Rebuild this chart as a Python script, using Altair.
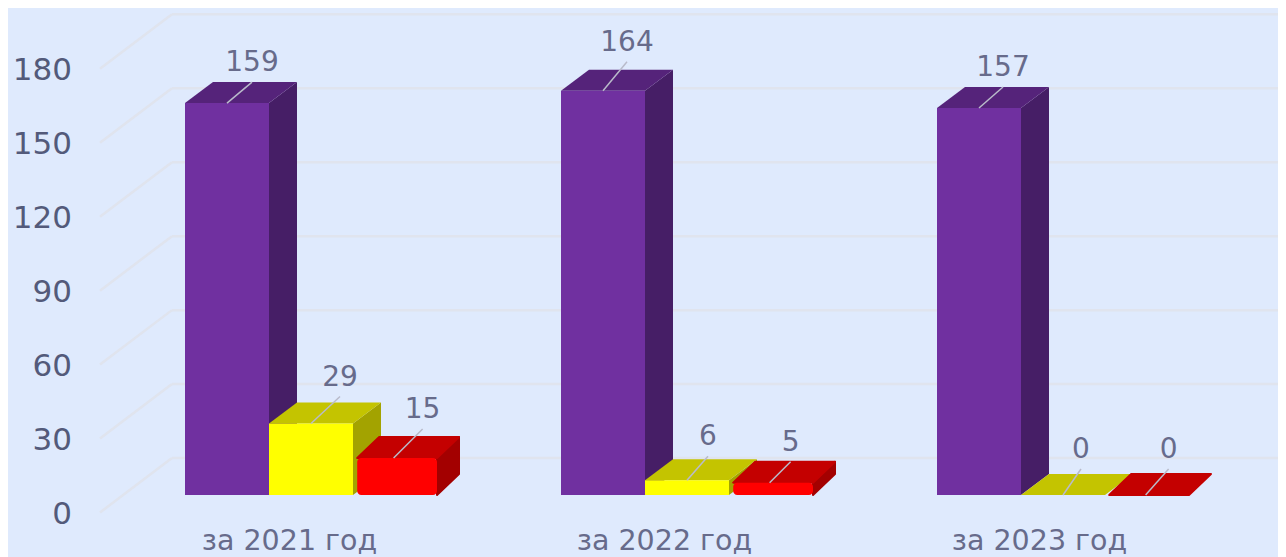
import altair as alt
import pandas as pd

categories = ["за 2021 год", "за 2022 год", "за 2023 год"]
purple_values = [159, 164, 157]
yellow_values = [29, 6, 0]
red_values = [15, 5, 0]
axis_values = [0, 30, 60, 90, 120, 150, 180]

# leader line run and rise for each value label, in pixels
purple_leader = [(25, 21), (24, 29), (24, 21)]
yellow_leader = [(29, 27), (21, 24), (18, 26)]
red_leader = [(29, 29), (21, 21), (23, 26)]

W, H = 1270, 549
PX_PER_VALUE = 2.465
BAR_PX = 84.0
GROUP_STEP = 376 / BAR_PX
CATEGORY_STEP = 375 / BAR_PX
DEPTH_V = 21 / PX_PER_VALUE
X_ORIGIN = 177.0
Y_ORIGIN = 487.0

xs = alt.Scale(domain=[-X_ORIGIN / BAR_PX, (W - X_ORIGIN) / BAR_PX], range=[0, W], nice=False, zero=False)
ys = alt.Scale(domain=[(Y_ORIGIN - H) / PX_PER_VALUE, Y_ORIGIN / PX_PER_VALUE], range=[H, 0], nice=False, zero=False)
X = alt.X("x:Q", scale=xs, axis=None)
Y = alt.Y("y:Q", scale=ys, axis=None)

WALL_FRONT_V = -7.1
WALL_BACK_V = 15.0
WALL_LEFT_U = -1.012
WALL_RIGHT_U = -0.155
TICK_LABEL_V = -8.0
wall = pd.DataFrame({"v": axis_values})
grid_color = "#e0e4ee"

diag = pd.DataFrame({
    "x": WALL_LEFT_U, "x2": WALL_RIGHT_U,
    "y": wall.v + WALL_FRONT_V, "y2": wall.v + WALL_BACK_V,
})
horiz = pd.DataFrame({
    "x": WALL_RIGHT_U, "x2": (W - X_ORIGIN) / BAR_PX,
    "y": wall.v + WALL_BACK_V, "y2": wall.v + WALL_BACK_V,
})
layers = []
for df in (diag, horiz):
    layers.append(
        alt.Chart(df).mark_rule(color=grid_color, strokeWidth=2.5).encode(x=X, x2="x2:Q", y=Y, y2="y2:Q")
    )

series = [
    dict(values=purple_values, start=0.0, width=1.0, depth=28, inset=0, front="#7030a0", top="#55237a", side="#461e66", round=False),
    dict(values=yellow_values, start=1.0, width=1.0, depth=28, inset=0, front="#ffff00", top="#c4c400", side="#a3a300", round=False),
    dict(values=red_values, start=2.05, width=0.95, depth=22, inset=3.5, front="#ff0000", top="#c40000", side="#a30000", round=True),
]


def soft(color, rounded):
    return {"stroke": color, "strokeWidth": 2, "strokeJoin": "round"} if rounded else {}


for s in series:
    rounded = s["round"]
    depth_u = s["depth"] / BAR_PX
    for g, v in enumerate(s["values"]):
        l = g * GROUP_STEP + s["start"]
        r = l + s["width"]
        if v > 0:
            side = pd.DataFrame([
                {"x": r, "y": 0, "y2": v},
                {"x": r + depth_u, "y": DEPTH_V, "y2": v + DEPTH_V},
            ])
            layers.append(
                alt.Chart(side).mark_area(orient="vertical", color=s["side"], **soft(s["side"], rounded))
                .encode(x=X, y=Y, y2="y2:Q")
            )
        top = pd.DataFrame([
            {"x": l, "x2": r, "y": v},
            {"x": l + depth_u, "x2": r + depth_u, "y": v + DEPTH_V},
        ])
        layers.append(
            alt.Chart(top).mark_area(orient="horizontal", color=s["top"], **soft(s["top"], rounded))
            .encode(x=X, x2="x2:Q", y=Y)
        )
        if v > 0:
            front = pd.DataFrame([{"x": l, "x2": r, "y": 0, "y2": v}])
            layers.append(
                alt.Chart(front).mark_rect(color=s["front"], cornerRadius=4 if rounded else 0)
                .encode(x=X, x2="x2:Q", y=Y, y2="y2:Q")
            )

# value labels and leaders
leader_rows, label_rows = [], []
for s, lead in zip(series, (purple_leader, yellow_leader, red_leader)):
    for g, (v, (run, rise)) in enumerate(zip(s["values"], lead)):
        x0 = g * GROUP_STEP + s["start"] + s["width"] / 2 - s["inset"] / BAR_PX
        x1 = x0 + run / BAR_PX
        y1 = v + rise / PX_PER_VALUE
        leader_rows.append({"x": x0, "x2": x1, "y": v, "y2": y1})
        label_rows.append({"x": x1, "y": y1 + 11 / PX_PER_VALUE, "t": str(v)})

layers.append(
    alt.Chart(pd.DataFrame(leader_rows)).mark_rule(color="#b9bbca", strokeWidth=1.5).encode(x=X, x2="x2:Q", y=Y, y2="y2:Q")
)
text_color = "#676b8b"
FONT = "DejaVu Sans"
layers.append(
    alt.Chart(pd.DataFrame(label_rows)).mark_text(
        font=FONT, fontSize=28, color=text_color, align="center", baseline="alphabetic"
    ).encode(x=X, y=Y, text="t:N")
)
tick_df = pd.DataFrame({"x": (72 - 185) / BAR_PX, "y": wall.v + TICK_LABEL_V, "t": [str(v) for v in axis_values]})
layers.append(
    alt.Chart(tick_df).mark_text(
        font=FONT, fontSize=31, color="#535a7a", align="right", baseline="middle"
    ).encode(x=X, y=Y, text="t:N")
)
cat_df = pd.DataFrame({
    "x": [g * CATEGORY_STEP + 104.5 / BAR_PX for g in range(3)],
    "y": -55 / PX_PER_VALUE,
    "t": categories,
})
layers.append(
    alt.Chart(cat_df).mark_text(
        font=FONT, fontSize=28.5, color=text_color, align="center", baseline="alphabetic"
    ).encode(x=X, y=Y, text="t:N")
)

chart = alt.layer(*layers).properties(
    width=W, height=H, padding=0, background="#dfeafd", autosize=alt.AutoSizeParams(type="none")
).configure_view(stroke=None)

chart.save("out.html", embed_options={"renderer": "svg", "actions": False})
